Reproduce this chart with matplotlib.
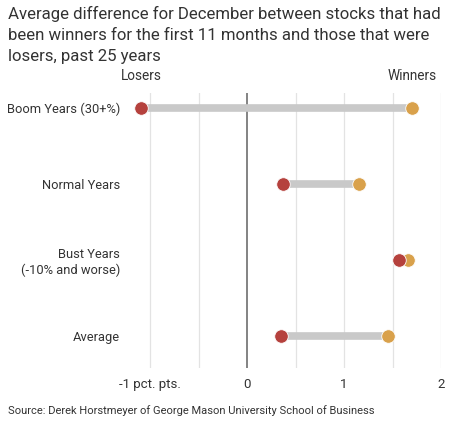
import matplotlib
matplotlib.use("Agg")
import matplotlib.pyplot as plt

# data
categories = ["Boom Years (30+%)", "Normal Years", "Bust Years\n(-10% and worse)", "Average"]
losers = [-1.09, 0.37, 1.57, 0.35]
winners = [1.70, 1.15, 1.66, 1.45]
xticks = [-1, 0, 1, 2]
xtick_labels = ["-1 pct. pts.", "0", "1", "2"]

narrow = "Roboto"

RED = "#b5413d"
GOLD = "#d9a14b"
GREY = "#c9c9c9"
TXT = "#333333"

fig = plt.figure(figsize=(4.51, 4.25), dpi=100)
ax = fig.add_axes([130.6 / 451, 1 - 368 / 425, (441 - 130.6) / 451, (368 - 93) / 425])

ys = list(range(len(categories)))
for y, lo, hi in zip(ys, losers, winners):
    ax.plot([lo, hi], [y, y], color=GREY, lw=5.5, solid_capstyle="butt", zorder=2)
ax.scatter(winners, ys, s=95, color=GOLD, zorder=3, edgecolors="white", linewidths=0.6)
ax.scatter(losers, ys, s=95, color=RED, zorder=4, edgecolors="white", linewidths=0.6)

ax.set_xlim(-1.2, 2.0)
ax.set_ylim(3.42, -0.2)
for g in [-1, -0.5, 0.5, 1, 1.5, 2]:
    ax.axvline(g, color="#e3e3e3", lw=0.9, zorder=1)
ax.axvline(0, color="#7a7a7a", lw=1.3, zorder=1)

ax.set_yticks(ys)
ax.set_yticklabels(categories, fontfamily=narrow, fontsize=9.3, color=TXT, ha="right")
ax.set_xticks(xticks)
ax.set_xticklabels(xtick_labels, fontfamily=narrow, fontsize=9.5, color=TXT)
ax.tick_params(length=0, axis="y", pad=7.5)
ax.tick_params(length=0, axis="x", pad=7)
for s in ax.spines.values():
    s.set_visible(False)

# column headers
ax.text(losers[0], -0.42, "Losers", ha="center", va="center", fontfamily=narrow,
        fontsize=9.8, color=TXT)
ax.text(winners[0], -0.42, "Winners", ha="center", va="center", fontfamily=narrow,
        fontsize=9.8, color=TXT)

fig.text(8 / 451, 1 - 6 / 425,
         "Average difference for December between stocks that had\n"
         "been winners for the first 11 months and those that were\n"
         "losers, past 25 years",
         ha="left", va="top", fontsize=12.1, color=TXT, linespacing=1.5,
         fontfamily="Roboto")
fig.text(8 / 451, 1 - 411 / 425,
         "Source: Derek Horstmeyer of George Mason University School of Business",
         ha="left", va="center", fontsize=8.0, color=TXT, fontfamily=narrow)

fig.savefig("out.png", dpi=100)
